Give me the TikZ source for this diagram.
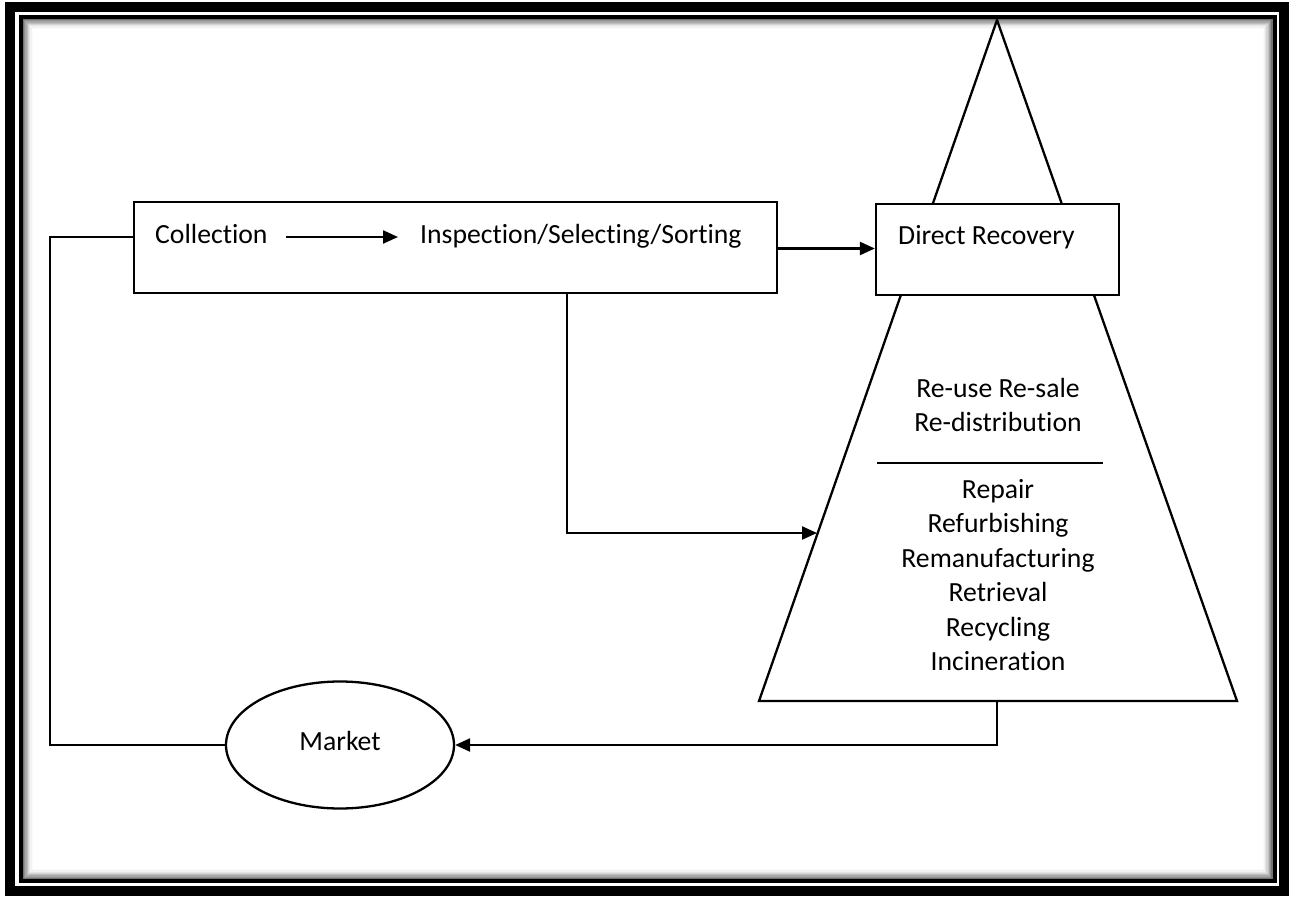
\documentclass[tikz,border=0pt]{standalone}
\usepackage{fontspec}
\setmainfont[RawFeature={-liga;-clig}]{Carlito}
\usetikzlibrary{arrows.meta,calc,shapes.geometric}
\begin{document}
\begin{tikzpicture}[x=1pt,y=-1pt,
  lw/.style={line width=2.3pt},
  boxst/.style={draw, rectangle, inner sep=0pt, line width=2.3pt, fill=white},
  lbl/.style={font=\fontsize{27.7}{34}\selectfont, inner sep=0pt},
  arr/.style={-{Triangle[length=15pt,width=13pt]}, line width=2.3pt},
  conn/.style={line width=2.3pt}]
\useasboundingbox (0,0) rectangle (1289,896);
% page frame
\draw[line width=10pt] (10,7) rectangle (1284,891);
\draw[line width=4pt] (21,17) rectangle (1274.5,881);
\foreach \i/\g in {0/55,1/44,2/34,3/25,4/17,5/10,6/5,7/2}{
  \draw[line width=1.3pt, black!\g] (23.6+\i*1.25,19.6+\i*1.25) rectangle (1271.9-\i*1.25,878.4-\i*1.25);
}
% triangle
\coordinate (apex) at (997,20);
\coordinate (bl) at (759,701);
\coordinate (br) at (1237,701);
\draw[lw, line join=miter] (apex) -- (bl) -- (br) -- cycle;
% boxes
\node[boxst, minimum width=643pt, minimum height=91pt] (mainbox) at (455.5,247.5) {};
\node[boxst, minimum width=243pt, minimum height=91pt] (direct) at (997.5,249.5) {};
\node[lbl, anchor=base west] (coll) at (155,243) {Collection};
\node[lbl, anchor=base west] (insp) at (420,243) {Inspection/Selecting/Sorting};
\node[lbl, anchor=base west] (dirtxt) at (898,244) {Direct Recovery};
\draw[arr] ($(coll.base east)+(18,-6)$) -- ($(insp.base west)+(-22,-6)$);
\draw[arr] ($(mainbox.east)+(0,1)$) -- ($(mainbox.east -| direct.west)+(0,1)$);
% list
\node[lbl, anchor=base] (t1) at (998,397) {Re-use Re-sale};
\node[lbl, anchor=base] (t2) at (998,431) {Re-distribution};
\coordinate (sepL) at (877,463);
\coordinate (sepR) at (1103,463);
\draw[lw] (sepL) -- (sepR);
\node[lbl, anchor=base] (t3) at (998,498) {Repair};
\node[lbl, anchor=base] (t4) at (998,532.5) {Refurbishing};
\node[lbl, anchor=base] (t5) at (998,567) {Remanufacturing};
\node[lbl, anchor=base] (t6) at (998,601.5) {Retrieval};
\node[lbl, anchor=base] (t7) at (998,636) {Recycling};
\node[lbl, anchor=base] (t8) at (998,670) {Incineration};
% market
\node[draw, ellipse, lw, minimum width=228pt, minimum height=127pt, inner sep=0pt] (market) at (340,745) {};
\node[lbl, anchor=base] (mtxt) at (340,750) {Market};
% connectors
\coordinate (drop) at (567,0);
\coordinate (triin) at (817,533);
\draw[arr] (mainbox.south -| drop) |- (triin);
\coordinate (tribase) at (997,701);
\draw[arr] (tribase) |- (market.east);
\coordinate (loop) at (50,237);
\draw[conn] (market.west) -| (loop) -- (loop -| mainbox.west);
\end{tikzpicture}
\end{document}
